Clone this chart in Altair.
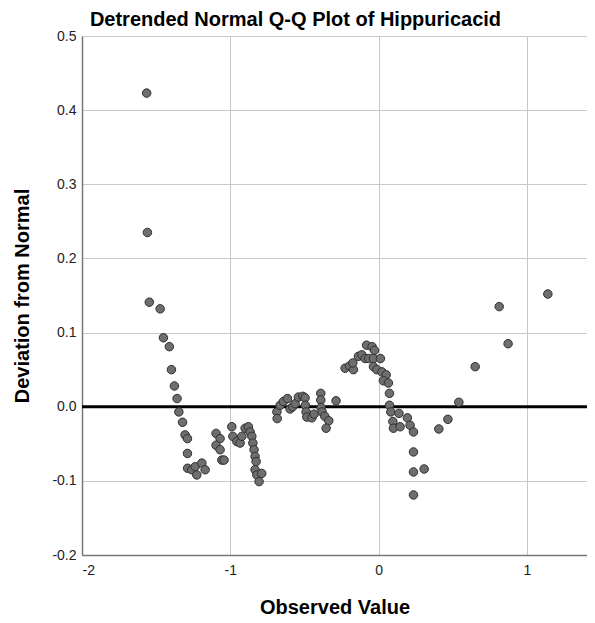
import altair as alt
import pandas as pd

obs = [-1.564, -1.559, -1.546, -1.473, -1.451, -1.411, -1.397, -1.377, -1.359, -1.347,
       -1.322, -1.305, -1.289, -1.289, -1.288, -1.260, -1.237, -1.226, -1.192, -1.170,
       -1.096, -1.069, -1.096, -1.069, -1.057, -1.042, -0.990, -0.983, -0.956, -0.934,
       -0.922, -0.900, -0.878, -0.866, -0.855, -0.848, -0.840, -0.833, -0.826, -0.833,
       -0.821, -0.806, -0.788, -0.686, -0.684, -0.664, -0.642, -0.615, -0.597, -0.579,
       -0.563, -0.541, -0.511, -0.496, -0.494, -0.489, -0.484, -0.450, -0.435, -0.390,
       -0.390, -0.388, -0.381, -0.363, -0.336, -0.354, -0.287, -0.226, -0.196, -0.170,
       -0.174, -0.136, -0.113, -0.091, -0.081, -0.044, -0.028, -0.067, -0.035, 0.012,
       -0.035, -0.012, 0.022, 0.051, 0.032, 0.066, 0.073, 0.073, 0.082, 0.096,
       0.100, 0.137, 0.145, 0.194, 0.212, 0.235, 0.235, 0.235, 0.235, 0.307,
       0.406, 0.467, 0.541, 0.651, 0.813, 0.873, 1.141]
dev = [0.423, 0.235, 0.141, 0.132, 0.093, 0.081, 0.050, 0.028, 0.011, -0.007,
       -0.021, -0.038, -0.043, -0.063, -0.083, -0.085, -0.081, -0.092, -0.076, -0.085,
       -0.036, -0.043, -0.052, -0.058, -0.072, -0.072, -0.027, -0.040, -0.047, -0.049,
       -0.040, -0.029, -0.027, -0.034, -0.040, -0.049, -0.058, -0.067, -0.074, -0.085,
       -0.092, -0.101, -0.090, -0.007, -0.016, 0.002, 0.007, 0.011, -0.003, 0.000,
       0.004, 0.013, 0.014, 0.012, 0.002, -0.007, -0.014, -0.015, -0.010, 0.018,
       0.009, -0.001, -0.007, -0.013, -0.019, -0.029, 0.008, 0.052, 0.055, 0.050,
       0.059, 0.068, 0.070, 0.065, 0.083, 0.081, 0.076, 0.065, 0.065, 0.065,
       0.054, 0.050, 0.047, 0.043, 0.035, 0.032, 0.018, 0.002, -0.007, -0.020,
       -0.029, -0.009, -0.027, -0.015, -0.025, -0.034, -0.061, -0.088, -0.119, -0.084,
       -0.030, -0.017, 0.006, 0.054, 0.135, 0.085, 0.152]

x_ticks = [-2, -1, 0, 1]
y_ticks = [-0.2, -0.1, 0.0, 0.1, 0.2, 0.3, 0.4, 0.5]
ref_line = [0.0]

df = pd.DataFrame({"obs": obs, "dev": dev})
ref = pd.DataFrame({"y": ref_line})

FONT = "Liberation Sans"

x_scale = alt.Scale(domain=[-2, 1.405], nice=False, zero=False)
y_scale = alt.Scale(domain=[-0.2, 0.5], nice=False, zero=False)

x_axis = alt.Axis(values=x_ticks, title="Observed Value", format="d",
                  labelExpr="replace(datum.label, '\u2212', '-')",
                  grid=True, ticks=False, labelPadding=8, titlePadding=20)
y_axis = alt.Axis(values=y_ticks, title="Deviation from Normal", format=".1f",
                  labelExpr="replace(datum.label, '\u2212', '-')",
                  grid=True, ticks=False, labelPadding=6, titlePadding=19)

points = alt.Chart(df).mark_circle(
    size=72, color="#6e6e6e", opacity=1, stroke="#2f2f2f", strokeWidth=1
).encode(
    x=alt.X("obs:Q", scale=x_scale, axis=x_axis),
    y=alt.Y("dev:Q", scale=y_scale, axis=y_axis),
)

rule = alt.Chart(ref).mark_rule(color="black", strokeWidth=3).encode(
    y=alt.Y("y:Q", scale=y_scale)
)

chart = alt.layer(rule, points).properties(
    width=505,
    height=519,
    autosize=alt.AutoSizeParams(type="none"),
    padding={"left": 74, "top": 28, "right": 0, "bottom": 63},
    title=alt.TitleParams(
        "Detrended Normal Q-Q Plot of Hippuricacid",
        anchor="start", dx=77, offset=-1,
        fontSize=20, fontWeight="bold", font=FONT, color="black",
    ),
).configure_view(strokeWidth=0).configure_axis(
    labelFont=FONT, labelFontSize=14, labelColor="#222222",
    titleFont=FONT, titleFontSize=20, titleFontWeight="bold", titleColor="black",
    gridColor="#c8c8c8", gridWidth=1,
    domainColor="#777777", domainWidth=1.5,
)

chart.save("out.html", embed_options={"renderer": "svg", "actions": False})
